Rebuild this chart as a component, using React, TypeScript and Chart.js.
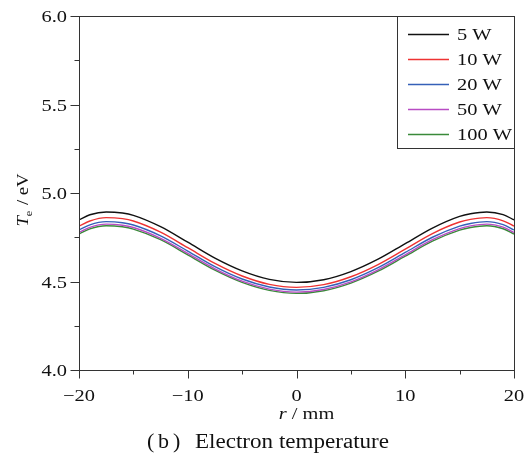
import React, { useEffect, useRef } from "react";
import { Chart, registerables } from "chart.js";

Chart.register(...registerables);

const radius = [-20, -19, -17.5, -16, -15, -12.5, -10, -7.5, -5, -2.5, 0, 2.5, 5, 7.5, 10, 12.5, 15, 16, 17.5, 19, 20];
const te5W = [4.848, 4.877, 4.893, 4.887, 4.874, 4.81, 4.722, 4.632, 4.56, 4.512, 4.495, 4.51, 4.556, 4.626, 4.714, 4.802, 4.868, 4.883, 4.893, 4.878, 4.848];
const te10W = [4.813, 4.842, 4.861, 4.855, 4.842, 4.779, 4.691, 4.602, 4.531, 4.484, 4.467, 4.482, 4.527, 4.596, 4.683, 4.771, 4.836, 4.851, 4.861, 4.843, 4.813];
const te20W = [4.791, 4.82, 4.838, 4.832, 4.819, 4.758, 4.672, 4.584, 4.514, 4.469, 4.452, 4.467, 4.51, 4.578, 4.664, 4.75, 4.813, 4.828, 4.838, 4.821, 4.791];
const te50W = [4.777, 4.806, 4.824, 4.818, 4.805, 4.744, 4.659, 4.572, 4.502, 4.457, 4.44, 4.455, 4.498, 4.566, 4.651, 4.736, 4.799, 4.814, 4.824, 4.807, 4.777];
const te100W = [4.768, 4.797, 4.815, 4.809, 4.796, 4.736, 4.651, 4.564, 4.495, 4.45, 4.433, 4.448, 4.491, 4.558, 4.643, 4.728, 4.79, 4.805, 4.815, 4.798, 4.768];

const seriesLabels = ["5 W", "10 W", "20 W", "50 W", "100 W"];
const seriesColors = ["#111111", "#ee3333", "#3560b8", "#b84cc4", "#3a8a3a"];
const seriesValues = [te5W, te10W, te20W, te50W, te100W];

const yTicks = [4.0, 4.5, 5.0, 5.5, 6.0];
const xTicks = [-20, -10, 0, 10, 20];
const yTitle = { main: "T", sub: "e", rest: " / eV" };
const xTitle = { main: "r", rest: " / mm" };
const caption = ["(", "b", ")", "Electron temperature"];

const SERIF = "'Liberation Serif', 'Times New Roman', serif";
const SX = 1.2;

function drawText(ctx: CanvasRenderingContext2D, text: string, x: number, y: number, font: string, align: CanvasTextAlign, sx = SX) {
  ctx.save();
  ctx.font = font;
  ctx.textAlign = align;
  ctx.textBaseline = "alphabetic";
  ctx.translate(x, y);
  ctx.scale(sx, 1);
  ctx.fillText(text, 0, 0);
  ctx.restore();
}

const decorPlugin = {
  id: "decor",
  afterDraw(chart: any) {
    const ctx: CanvasRenderingContext2D = chart.ctx;
    const { left, right, top, bottom } = chart.chartArea;
    const xs = chart.scales.x;
    const ys = chart.scales.y;
    ctx.save();
    ctx.strokeStyle = "#333";
    ctx.fillStyle = "#111";
    ctx.lineWidth = 1;
    ctx.strokeRect(left + 0.5, top + 0.5, right - left, bottom - top);
    for (let v = 4.0; v <= 6.0001; v += 0.25) {
      const p = Math.round(ys.getPixelForValue(v)) + 0.5;
      const major = Math.abs(v * 2 - Math.round(v * 2)) < 1e-6;
      ctx.beginPath();
      ctx.moveTo(left + 0.5, p);
      ctx.lineTo(left + 0.5 - (major ? 9 : 5), p);
      ctx.stroke();
    }
    for (let v = -20; v <= 20; v += 5) {
      const p = Math.round(xs.getPixelForValue(v)) + 0.5;
      const major = v % 10 === 0;
      ctx.beginPath();
      ctx.moveTo(p, bottom + 0.5);
      ctx.lineTo(p, bottom + 0.5 + (major ? 8 : 4));
      ctx.stroke();
    }
    const tickFont = `17px ${SERIF}`;
    yTicks.forEach((v) => {
      const p = ys.getPixelForValue(v);
      drawText(ctx, v.toFixed(1), left - 12, p + 6, tickFont, "right");
    });
    xTicks.forEach((v) => {
      const p = xs.getPixelForValue(v);
      const t = v < 0 ? "\u2212" + Math.abs(v) : String(v);
      drawText(ctx, t, p, bottom + 31, tickFont, "center");
    });
    {
      const fMain = `italic 17px ${SERIF}`;
      ctx.font = fMain;
      const w1 = ctx.measureText(xTitle.main).width * SX;
      ctx.font = tickFont;
      const w2 = ctx.measureText(xTitle.rest).width * SX;
      const cx = (left + right) / 2 + 10;
      const x0 = cx - (w1 + w2) / 2;
      drawText(ctx, xTitle.main, x0, 419, fMain, "left");
      drawText(ctx, xTitle.rest, x0 + w1, 419, tickFont, "left");
    }
    {
      const fMain = `italic 17px ${SERIF}`;
      const fSub = `11px ${SERIF}`;
      ctx.font = fMain;
      const w1 = ctx.measureText(yTitle.main).width * 1.1;
      ctx.font = fSub;
      const w2 = ctx.measureText(yTitle.sub).width * 1.1;
      ctx.font = tickFont;
      const w3 = ctx.measureText(yTitle.rest).width * 1.1;
      const total = w1 + w2 + 1 + w3;
      ctx.save();
      ctx.translate(28, 200);
      ctx.rotate(-Math.PI / 2);
      let x = -total / 2;
      drawText(ctx, yTitle.main, x, 0, fMain, "left", 1.1);
      x += w1;
      drawText(ctx, yTitle.sub, x, 4, fSub, "left", 1.1);
      x += w2 + 1;
      drawText(ctx, yTitle.rest, x, 0, tickFont, "left", 1.1);
      ctx.restore();
    }
    {
      const bx = 397, by = top, bw = right - 397, bh = 132;
      ctx.fillStyle = "#fff";
      ctx.fillRect(bx, by, bw, bh);
      ctx.strokeStyle = "#333";
      ctx.strokeRect(bx + 0.5, by + 0.5, bw, bh);
      seriesLabels.forEach((lab, i) => {
        const yy = 34 + i * 25;
        ctx.strokeStyle = seriesColors[i];
        ctx.lineWidth = 1.5;
        ctx.beginPath();
        ctx.moveTo(408, yy + 0.5);
        ctx.lineTo(449, yy + 0.5);
        ctx.stroke();
        ctx.fillStyle = "#111";
        drawText(ctx, lab, 457, yy + 6, tickFont, "left");
      });
    }
    {
      ctx.fillStyle = "#111";
      const f = `20px ${SERIF}`;
      drawText(ctx, caption[0], 147, 448, f, "left", 1.1);
      drawText(ctx, caption[1], 158, 448, f, "left", 1.1);
      drawText(ctx, caption[2], 173, 448, f, "left", 1.1);
      ctx.font = f;
      const w = ctx.measureText(caption[3]).width;
      drawText(ctx, caption[3], 195, 448, f, "left", 194 / w);
    }
    ctx.restore();
  },
};

export default function App() {
  const ref = useRef<HTMLCanvasElement | null>(null);
  useEffect(() => {
    if (!ref.current) return;
    const chart = new Chart(ref.current, {
      type: "line",
      data: {
        datasets: seriesValues.map((vals, i) => ({
          label: seriesLabels[i],
          data: radius.map((r, j) => ({ x: r, y: vals[j] })),
          borderColor: seriesColors[i],
          backgroundColor: seriesColors[i],
          borderWidth: 1.4,
          pointRadius: 0,
          cubicInterpolationMode: "monotone" as const,
          fill: false,
        })),
      },
      options: {
        responsive: false,
        animation: false,
        layout: { padding: { left: 0, right: 10, top: 16, bottom: 0 } },
        plugins: { legend: { display: false }, tooltip: { enabled: false }, title: { display: false } },
        scales: {
          x: {
            type: "linear",
            min: -20,
            max: 20,
            ticks: { display: false, stepSize: 10 },
            grid: { display: false },
            border: { display: false },
            afterFit(scale: any) {
              scale.height = 96;
              scale.paddingLeft = 0;
              scale.paddingRight = 0;
            },
          },
          y: {
            type: "linear",
            min: 4,
            max: 6,
            ticks: { display: false, stepSize: 0.5 },
            grid: { display: false },
            border: { display: false },
            afterFit(scale: any) {
              scale.width = 79;
              scale.paddingTop = 0;
              scale.paddingBottom = 0;
            },
          },
        },
      },
      plugins: [decorPlugin],
    });
    return () => chart.destroy();
  }, []);
  return (
    <div style={{ position: "fixed", left: 0, top: 0, width: 524, height: 466, background: "#fff" }}>
      <canvas ref={ref} width={524} height={466} style={{ width: 524, height: 466, display: "block" }} />
    </div>
  );
}
